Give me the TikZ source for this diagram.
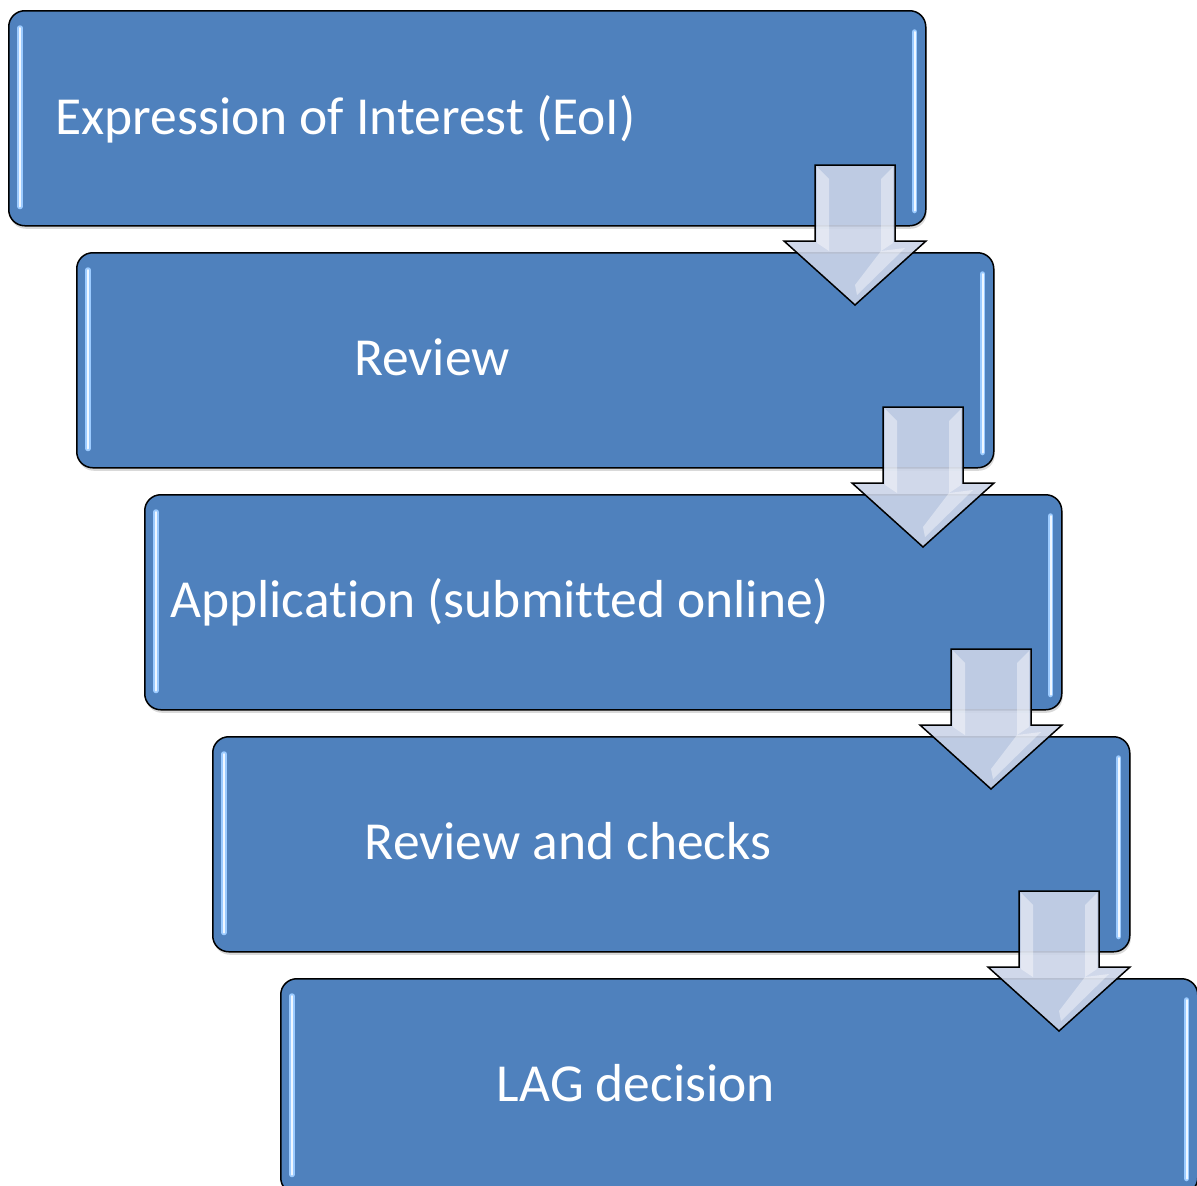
\documentclass[tikz,border=0pt]{standalone}
\usepackage{fontspec}
\setmainfont{Carlito}[Ligatures={NoCommon}]
\usetikzlibrary{calc,shadows}
\definecolor{boxblue}{HTML}{4F81BD}
\definecolor{arrfill}{HTML}{CBD4E8}
\definecolor{hlblue}{HTML}{9CCBFF}
\begin{document}
\begin{tikzpicture}[x=1pt,y=-1pt,
  box/.style={draw=black, line width=1.5pt, fill=boxblue, rounded corners=16pt,
    minimum width=917pt, minimum height=215pt, anchor=north west, inner sep=0pt,
    drop shadow={opacity=0.3, shadow xshift=1pt, shadow yshift=-3pt}},
  lbl/.style={text=white, font=\fontsize{53.5}{60}\selectfont, inner sep=0pt},
  hl/.style={line width=5.5pt, line cap=round, draw=hlblue},
  hlc/.style={line width=2pt, line cap=round, draw=white!85!hlblue},
  arr/.style={draw=black, line width=1.5pt, fill=arrfill, fill opacity=0.9, line join=miter},
  bevel/.style={fill=white, opacity=0.4}]
\useasboundingbox (0,0) rectangle (1197,1186);
\clip (0,0) rectangle (1197,1186);

\node[box] (b1) at (8,10) {};
\node[box] (b2) at (76,252) {};
\node[box] (b3) at (144,494) {};
\node[box] (b4) at (212,736) {};
\node[box] (b5) at (280,978) {};

\foreach \b in {b1,b2,b3,b4,b5} {
  \draw[hl] ($(\b.north west)+(12,18)$) -- ($(\b.south west)+(12,-20)$);
  \draw[hlc] ($(\b.north west)+(12,18)$) -- ($(\b.south west)+(12,-20)$);
  \draw[hl] ($(\b.north east)+(-12,22)$) -- ($(\b.south east)+(-12,-16)$);
  \draw[hlc] ($(\b.north east)+(-12,22)$) -- ($(\b.south east)+(-12,-16)$);
}

\node[lbl, anchor=base west] (t1) at (55,134) {Expression of Interest (EoI)};
\node[lbl, anchor=base] (t2) at (432,375) {Review};
\node[lbl, anchor=base west] (t3) at (170,617) {Application (submitted online)};
\node[lbl, anchor=base] (t4) at (568,859) {Review and checks};
\node[lbl, anchor=base] (t5) at (636,1101) {LAG decision};

\foreach \k in {0,1,2,3} {
  \begin{scope}[shift={(68*\k,242*\k)}]
    \fill[arr, draw=none] (815,165) -- (895,165) -- (895,241) -- (926,241) -- (855,305) -- (784,241) -- (815,241) -- cycle;
    \fill[bevel] (817,167) -- (829,179) -- (829,251) -- (817,243) -- cycle;
    \fill[bevel] (893,167) -- (881,179) -- (881,251) -- (893,243) -- cycle;
    \fill[bevel] (881,251) -- (905,248) -- (857,295) -- (855,285) -- cycle;
    \draw[arr, fill=none] (815,165) -- (895,165) -- (895,241) -- (926,241) -- (855,305) -- (784,241) -- (815,241) -- cycle;
  \end{scope}
}
\end{tikzpicture}
\end{document}
